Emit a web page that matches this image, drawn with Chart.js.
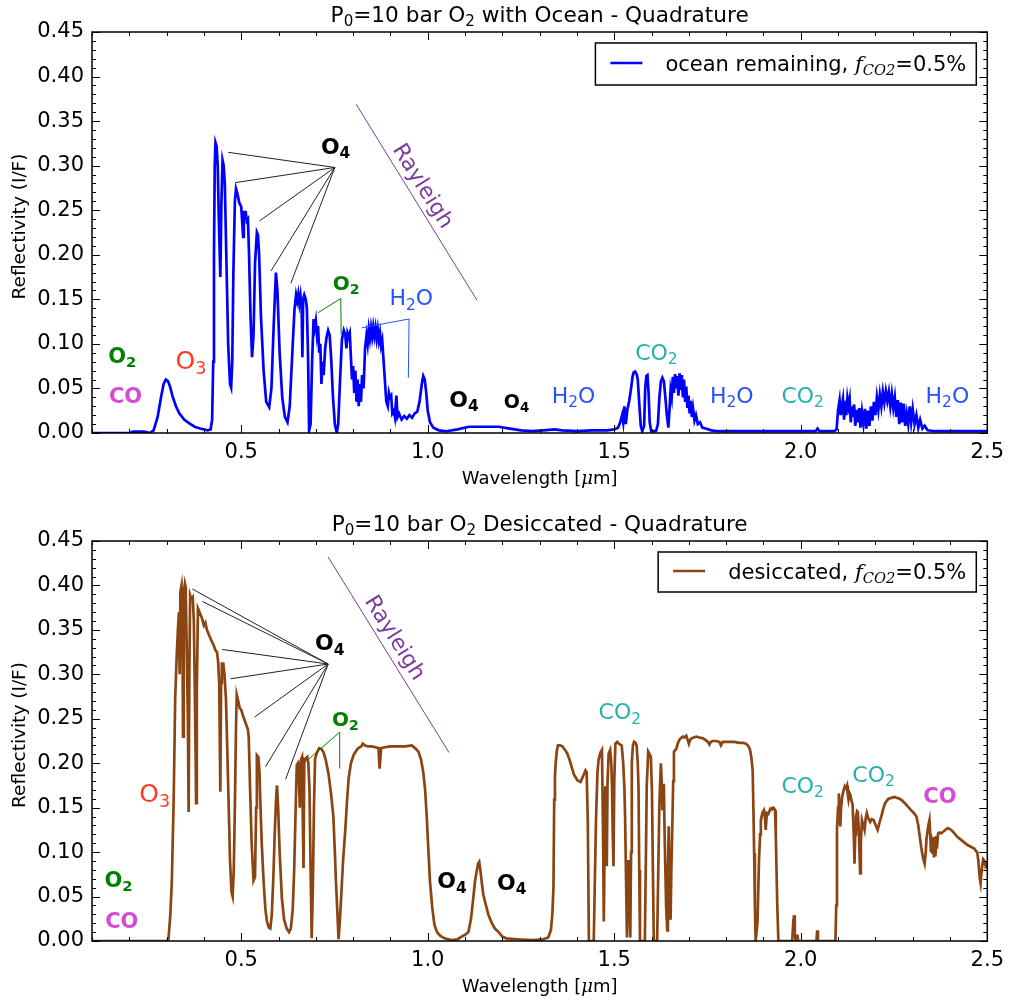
<!DOCTYPE html>
<html>
<head>
  <meta charset="utf-8">
  <title>P0=10 bar O2 reflectivity spectra</title>
  <script src="https://cdn.jsdelivr.net/npm/chart.js"></script>
  <style>
    body { margin: 0; padding: 0; background: #fff; }
    canvas { display: block; }
  </style>
</head>
<body>
  <canvas id="oceanChart" width="1011" height="500"></canvas>
  <canvas id="dryChart" width="1011" height="500"></canvas>

  <script>
    // Spectra as [wavelength (um), reflectivity I/F] pairs
    const oceanSpectrum = [
      [0.100,0.000],[0.200,0.000],[0.210,0.0015],[0.240,0.0015],[0.255,0.000],[0.265,0.003],[0.276,0.018],[0.285,0.040],
      [0.292,0.055],[0.298,0.060],[0.304,0.058],[0.310,0.051],[0.316,0.041],[0.325,0.030],[0.334,0.022],[0.347,0.015],
      [0.360,0.011],[0.375,0.007],[0.390,0.005],[0.410,0.003],[0.418,0.004],[0.422,0.015],[0.425,0.080],[0.427,0.200],
      [0.429,0.300],[0.431,0.326],[0.434,0.322],[0.437,0.300],[0.440,0.240],[0.444,0.175],[0.447,0.260],[0.450,0.306],
      [0.453,0.300],[0.456,0.280],[0.460,0.200],[0.465,0.100],[0.470,0.055],[0.473,0.051],[0.476,0.080],[0.479,0.180],
      [0.483,0.260],[0.486,0.274],[0.490,0.268],[0.495,0.258],[0.500,0.254],[0.503,0.235],[0.505,0.220],[0.507,0.248],
      [0.512,0.248],[0.515,0.238],[0.518,0.240],[0.521,0.200],[0.525,0.130],[0.529,0.085],[0.533,0.110],[0.537,0.190],
      [0.542,0.225],[0.545,0.222],[0.548,0.200],[0.553,0.130],[0.560,0.070],[0.567,0.035],[0.575,0.029],[0.581,0.050],
      [0.587,0.120],[0.593,0.180],[0.597,0.160],[0.603,0.090],[0.610,0.040],[0.617,0.018],[0.624,0.012],[0.630,0.030],
      [0.637,0.090],[0.643,0.140],[0.647,0.155],[0.650,0.148],[0.653,0.156],[0.656,0.145],[0.659,0.154],[0.662,0.140],
      [0.664,0.085],[0.666,0.150],[0.669,0.155],[0.673,0.150],[0.676,0.140],[0.679,0.090],[0.682,0.003],[0.686,0.010],
      [0.690,0.080],[0.694,0.128],[0.697,0.118],[0.700,0.126],[0.703,0.110],[0.706,0.120],[0.709,0.090],[0.712,0.100],
      [0.715,0.055],[0.718,0.080],[0.721,0.065],[0.725,0.095],[0.729,0.108],[0.733,0.115],[0.737,0.110],[0.741,0.085],
      [0.746,0.040],[0.751,0.010],[0.756,0.000],[0.760,0.010],[0.765,0.060],[0.770,0.105],[0.775,0.115],[0.779,0.110],
      [0.782,0.095],[0.785,0.112],[0.788,0.108],[0.791,0.112],[0.794,0.085],[0.797,0.060],[0.800,0.075],[0.803,0.045],
      [0.806,0.070],[0.809,0.035],[0.812,0.060],[0.815,0.030],[0.818,0.055],[0.821,0.035],[0.824,0.065],[0.828,0.050],
      [0.832,0.095],[0.836,0.110],[0.839,0.100],[0.842,0.116],[0.845,0.106],[0.848,0.118],[0.851,0.108],[0.854,0.119],
      [0.857,0.109],[0.860,0.118],[0.863,0.106],[0.866,0.116],[0.869,0.104],[0.872,0.112],[0.875,0.098],[0.878,0.104],
      [0.881,0.085],[0.885,0.060],[0.889,0.035],[0.893,0.030],[0.896,0.045],[0.899,0.040],[0.902,0.042],[0.905,0.022],
      [0.909,0.025],[0.912,0.018],[0.916,0.042],[0.919,0.018],[0.923,0.022],[0.930,0.015],[0.937,0.019],[0.944,0.016],
      [0.951,0.020],[0.958,0.017],[0.965,0.022],[0.972,0.024],[0.978,0.035],[0.984,0.055],[0.988,0.064],[0.992,0.060],
      [0.996,0.045],[1.000,0.025],[1.006,0.012],[1.015,0.006],[1.030,0.003],[1.050,0.002],[1.080,0.004],[1.110,0.007],
      [1.150,0.007],[1.190,0.007],[1.220,0.005],[1.250,0.003],[1.280,0.002],[1.310,0.003],[1.340,0.004],[1.360,0.003],
      [1.400,0.002],[1.440,0.003],[1.480,0.003],[1.500,0.004],[1.510,0.006],[1.516,0.012],[1.521,0.020],[1.524,0.012],
      [1.527,0.030],[1.531,0.010],[1.535,0.026],[1.540,0.036],[1.545,0.050],[1.549,0.063],[1.552,0.068],[1.556,0.069],
      [1.560,0.066],[1.563,0.060],[1.567,0.033],[1.571,0.008],[1.575,0.002],[1.580,0.008],[1.583,0.050],[1.586,0.064],
      [1.589,0.065],[1.592,0.045],[1.595,0.012],[1.599,0.002],[1.612,0.002],[1.617,0.010],[1.621,0.040],[1.625,0.058],
      [1.629,0.062],[1.633,0.058],[1.637,0.040],[1.641,0.020],[1.645,0.006],[1.648,0.025],[1.651,0.048],[1.654,0.040],
      [1.657,0.063],[1.660,0.045],[1.663,0.066],[1.666,0.050],[1.669,0.064],[1.672,0.042],[1.675,0.067],[1.678,0.048],
      [1.681,0.065],[1.684,0.040],[1.687,0.060],[1.690,0.035],[1.693,0.052],[1.696,0.028],[1.699,0.042],[1.702,0.022],
      [1.705,0.036],[1.708,0.018],[1.711,0.028],[1.715,0.014],[1.719,0.020],[1.724,0.010],[1.730,0.012],[1.736,0.006],
      [1.745,0.005],[1.760,0.003],[1.780,0.002],[1.850,0.002],[1.950,0.002],[2.040,0.002],[2.045,0.005],[2.050,0.002],
      [2.090,0.002],[2.096,0.004],[2.100,0.026],[2.104,0.037],[2.107,0.020],[2.110,0.030],[2.113,0.038],[2.116,0.015],
      [2.119,0.036],[2.122,0.020],[2.125,0.039],[2.128,0.030],[2.131,0.038],[2.134,0.012],[2.137,0.030],[2.140,0.018],
      [2.143,0.032],[2.146,0.008],[2.150,0.026],[2.153,0.012],[2.157,0.028],[2.160,0.006],[2.164,0.024],[2.168,0.010],
      [2.172,0.027],[2.176,0.005],[2.180,0.025],[2.184,0.008],[2.188,0.030],[2.192,0.014],[2.196,0.035],[2.200,0.020],
      [2.204,0.040],[2.208,0.026],[2.212,0.043],[2.216,0.030],[2.220,0.046],[2.224,0.034],[2.228,0.047],[2.232,0.036],
      [2.236,0.046],[2.240,0.030],[2.244,0.044],[2.248,0.028],[2.252,0.040],[2.256,0.018],[2.260,0.037],[2.264,0.010],
      [2.268,0.034],[2.272,0.012],[2.276,0.033],[2.280,0.008],[2.284,0.022],[2.288,0.010],[2.292,0.030],[2.296,0.012],
      [2.300,0.027],[2.305,0.010],[2.310,0.020],[2.315,0.006],[2.320,0.015],[2.326,0.005],[2.332,0.008],[2.340,0.003],
      [2.360,0.002],[2.500,0.002]
    ];

    const drySpectrum = [
      [0.100,0.000],[0.300,0.000],[0.305,0.002],[0.310,0.030],[0.314,0.067],[0.319,0.160],[0.323,0.273],[0.327,0.320],
      [0.330,0.348],[0.333,0.370],[0.335,0.300],[0.337,0.393],[0.340,0.400],[0.342,0.380],[0.344,0.230],[0.346,0.392],
      [0.349,0.402],[0.351,0.398],[0.354,0.330],[0.357,0.250],[0.359,0.145],[0.361,0.300],[0.363,0.389],[0.366,0.385],
      [0.370,0.387],[0.373,0.360],[0.375,0.300],[0.378,0.200],[0.379,0.155],[0.381,0.280],[0.384,0.374],[0.390,0.368],
      [0.395,0.363],[0.400,0.355],[0.404,0.358],[0.408,0.350],[0.412,0.346],[0.416,0.342],[0.421,0.337],[0.426,0.333],
      [0.431,0.327],[0.435,0.325],[0.438,0.315],[0.441,0.290],[0.444,0.168],[0.446,0.290],[0.448,0.312],[0.452,0.312],
      [0.455,0.300],[0.459,0.273],[0.463,0.210],[0.466,0.160],[0.470,0.090],[0.474,0.055],[0.477,0.050],[0.480,0.080],
      [0.483,0.150],[0.486,0.240],[0.488,0.277],[0.492,0.270],[0.496,0.262],[0.500,0.260],[0.506,0.252],[0.512,0.245],
      [0.518,0.238],[0.520,0.230],[0.522,0.200],[0.524,0.168],[0.528,0.110],[0.533,0.068],[0.537,0.072],[0.540,0.150],
      [0.542,0.209],[0.546,0.207],[0.549,0.190],[0.551,0.160],[0.555,0.110],[0.560,0.067],[0.565,0.035],[0.569,0.022],
      [0.574,0.015],[0.578,0.014],[0.582,0.030],[0.586,0.070],[0.590,0.123],[0.594,0.165],[0.596,0.175],[0.599,0.150],
      [0.603,0.100],[0.609,0.048],[0.615,0.024],[0.622,0.014],[0.628,0.010],[0.633,0.014],[0.638,0.035],[0.642,0.080],
      [0.646,0.150],[0.649,0.198],[0.652,0.200],[0.655,0.180],[0.657,0.150],[0.659,0.200],[0.661,0.205],[0.663,0.207],
      [0.665,0.140],[0.667,0.082],[0.669,0.200],[0.672,0.205],[0.677,0.207],[0.680,0.200],[0.683,0.170],[0.686,0.080],
      [0.689,0.003],[0.692,0.060],[0.695,0.150],[0.698,0.205],[0.703,0.212],[0.709,0.217],[0.715,0.216],[0.721,0.212],
      [0.727,0.203],[0.734,0.188],[0.741,0.165],[0.747,0.140],[0.751,0.100],[0.754,0.067],[0.758,0.030],[0.761,0.002],
      [0.764,0.020],[0.768,0.050],[0.773,0.090],[0.779,0.125],[0.784,0.160],[0.788,0.183],[0.794,0.200],[0.801,0.209],
      [0.808,0.214],[0.814,0.217],[0.822,0.219],[0.826,0.222],[0.832,0.220],[0.840,0.219],[0.850,0.219],[0.860,0.218],
      [0.868,0.217],[0.870,0.200],[0.871,0.194],[0.873,0.205],[0.875,0.217],[0.885,0.218],[0.900,0.219],[0.920,0.219],
      [0.940,0.219],[0.957,0.220],[0.966,0.217],[0.975,0.213],[0.982,0.204],[0.988,0.190],[0.993,0.170],[0.997,0.142],
      [1.002,0.100],[1.006,0.067],[1.012,0.038],[1.018,0.018],[1.025,0.010],[1.033,0.006],[1.045,0.003],[1.064,0.001],
      [1.080,0.002],[1.091,0.005],[1.100,0.007],[1.109,0.010],[1.116,0.025],[1.122,0.048],[1.127,0.068],[1.131,0.078],
      [1.135,0.087],[1.138,0.089],[1.141,0.080],[1.145,0.065],[1.149,0.052],[1.156,0.040],[1.163,0.029],[1.172,0.020],
      [1.180,0.014],[1.190,0.010],[1.200,0.005],[1.210,0.003],[1.240,0.002],[1.279,0.001],[1.310,0.002],[1.323,0.004],
      [1.330,0.012],[1.334,0.030],[1.337,0.060],[1.339,0.159],[1.341,0.185],[1.343,0.200],[1.346,0.214],[1.349,0.220],
      [1.355,0.220],[1.361,0.219],[1.368,0.215],[1.374,0.211],[1.380,0.204],[1.385,0.197],[1.392,0.187],[1.401,0.181],
      [1.410,0.179],[1.414,0.183],[1.418,0.187],[1.423,0.192],[1.426,0.190],[1.429,0.136],[1.432,0.000],[1.445,0.000],
      [1.451,0.136],[1.455,0.190],[1.458,0.204],[1.463,0.212],[1.467,0.215],[1.470,0.120],[1.472,0.022],[1.474,0.100],
      [1.476,0.174],[1.478,0.130],[1.480,0.084],[1.482,0.180],[1.485,0.211],[1.489,0.215],[1.492,0.200],[1.494,0.174],
      [1.496,0.120],[1.498,0.084],[1.500,0.180],[1.503,0.222],[1.508,0.224],[1.512,0.222],[1.516,0.221],[1.520,0.220],
      [1.524,0.200],[1.527,0.174],[1.529,0.140],[1.532,0.060],[1.534,0.004],[1.536,0.060],[1.538,0.091],[1.540,0.050],
      [1.543,0.004],[1.545,0.100],[1.547,0.200],[1.550,0.220],[1.553,0.224],[1.557,0.223],[1.560,0.220],[1.563,0.200],
      [1.565,0.174],[1.567,0.080],[1.569,0.000],[1.582,0.000],[1.585,0.100],[1.587,0.174],[1.591,0.213],[1.595,0.210],
      [1.598,0.207],[1.601,0.170],[1.603,0.099],[1.606,0.000],[1.615,0.000],[1.618,0.080],[1.621,0.155],[1.625,0.200],
      [1.627,0.180],[1.629,0.147],[1.631,0.170],[1.633,0.177],[1.635,0.120],[1.637,0.080],[1.639,0.040],[1.642,0.012],
      [1.644,0.080],[1.646,0.129],[1.648,0.070],[1.651,0.024],[1.653,0.080],[1.655,0.117],[1.658,0.180],[1.660,0.213],
      [1.664,0.215],[1.667,0.217],[1.670,0.222],[1.674,0.226],[1.678,0.228],[1.684,0.230],[1.688,0.229],[1.693,0.231],
      [1.697,0.226],[1.700,0.222],[1.703,0.226],[1.707,0.228],[1.713,0.229],[1.720,0.230],[1.728,0.229],[1.738,0.228],
      [1.745,0.226],[1.751,0.224],[1.755,0.221],[1.759,0.224],[1.764,0.225],[1.773,0.225],[1.782,0.224],[1.786,0.220],
      [1.791,0.224],[1.800,0.224],[1.809,0.224],[1.822,0.224],[1.835,0.223],[1.845,0.223],[1.853,0.222],[1.860,0.219],
      [1.864,0.215],[1.868,0.205],[1.871,0.192],[1.873,0.150],[1.875,0.099],[1.877,0.040],[1.879,0.000],[1.882,0.012],
      [1.884,0.022],[1.888,0.091],[1.891,0.120],[1.893,0.136],[1.897,0.144],[1.901,0.147],[1.904,0.138],[1.906,0.125],
      [1.909,0.144],[1.913,0.143],[1.915,0.145],[1.919,0.149],[1.923,0.148],[1.926,0.150],[1.929,0.149],[1.931,0.147],
      [1.933,0.120],[1.934,0.099],[1.937,0.040],[1.940,0.000],[1.977,0.000],[1.980,0.022],[1.982,0.029],[1.984,0.010],
      [1.986,0.000],[1.990,0.000],[1.991,0.007],[1.993,0.000],[2.042,0.000],[2.044,0.012],[2.046,0.000],[2.093,0.000],
      [2.095,0.040],[2.097,0.125],[2.100,0.150],[2.102,0.166],[2.104,0.150],[2.106,0.129],[2.108,0.150],[2.111,0.162],
      [2.115,0.170],[2.118,0.174],[2.121,0.172],[2.124,0.175],[2.126,0.165],[2.128,0.159],[2.131,0.166],[2.133,0.164],
      [2.136,0.158],[2.139,0.153],[2.142,0.120],[2.144,0.087],[2.146,0.120],[2.148,0.140],[2.151,0.146],[2.153,0.145],
      [2.156,0.120],[2.159,0.076],[2.161,0.110],[2.164,0.136],[2.168,0.130],[2.171,0.125],[2.174,0.138],[2.177,0.144],
      [2.181,0.138],[2.186,0.134],[2.190,0.137],[2.195,0.136],[2.200,0.131],[2.206,0.125],[2.211,0.133],[2.217,0.142],
      [2.222,0.150],[2.226,0.155],[2.231,0.158],[2.235,0.160],[2.243,0.161],[2.252,0.162],[2.258,0.161],[2.265,0.160],
      [2.272,0.158],[2.279,0.155],[2.288,0.151],[2.296,0.147],[2.303,0.144],[2.310,0.140],[2.315,0.130],[2.319,0.117],
      [2.323,0.105],[2.327,0.095],[2.330,0.090],[2.332,0.087],[2.335,0.100],[2.337,0.115],[2.339,0.121],[2.342,0.130],
      [2.345,0.136],[2.347,0.120],[2.349,0.100],[2.351,0.112],[2.353,0.098],[2.355,0.117],[2.357,0.094],[2.359,0.113],
      [2.361,0.095],[2.363,0.118],[2.365,0.104],[2.368,0.121],[2.372,0.122],[2.376,0.121],[2.385,0.124],[2.394,0.127],
      [2.403,0.125],[2.412,0.121],[2.420,0.117],[2.429,0.114],[2.438,0.111],[2.447,0.108],[2.456,0.106],[2.465,0.104],
      [2.470,0.101],[2.473,0.100],[2.476,0.090],[2.478,0.080],[2.480,0.070],[2.482,0.065],[2.484,0.075],[2.487,0.087],
      [2.489,0.092],[2.491,0.091],[2.494,0.086],[2.496,0.085],[2.500,0.088]
    ];

    const xTickValues = [0.5, 1.0, 1.5, 2.0, 2.5];
    const yTickValues = [0, 0.05, 0.10, 0.15, 0.20, 0.25, 0.30, 0.35, 0.40, 0.45];

    const FONT = '"DejaVu Sans", sans-serif';
    const SERIF = '"DejaVu Serif", serif';

    // colours used for the species labels
    const C_O2 = '#008000', C_CO = '#d24dd2', C_O3 = '#ff3a20', C_CO2 = '#22b0b0',
          C_H2O = '#2452ff', C_RAY = '#7b3c9e';

    const sub = t => ({ t, sub: true });

    // Mixed text (normal + subscript + serif italic pieces), centred on x unless align = 'left'
    function richSegments(ctx, parts, o) {
      return parts.map(p => {
        const seg = typeof p === 'string' ? { t: p } : p;
        const size = seg.sub ? o.size * 0.7 : o.size;
        const font = `${seg.style || 'normal'} ${o.weight || 'normal'} ${size}px ${seg.family || FONT}`;
        ctx.font = font;
        return { t: seg.t, font, sub: seg.sub, w: ctx.measureText(seg.t).width };
      });
    }
    function richWidth(ctx, parts, o) {
      return richSegments(ctx, parts, o).reduce((a, s) => a + s.w, 0);
    }
    function drawRich(ctx, parts, x, y, o) {
      const segs = richSegments(ctx, parts, o);
      const total = segs.reduce((a, s) => a + s.w, 0);
      let cx = o.align === 'left' ? x : x - total / 2;
      const base = y + o.size * 0.36;
      ctx.fillStyle = o.color || '#000';
      ctx.textAlign = 'left';
      ctx.textBaseline = 'alphabetic';
      segs.forEach(s => {
        ctx.font = s.font;
        ctx.fillText(s.t, cx, s.sub ? base + o.size * 0.2 : base);
        cx += s.w;
      });
    }

    // Frame, inward ticks, title, axis titles, legend and the band annotations
    const panelDecor = {
      id: 'panelDecor',
      afterDatasetsDraw(chart, args, opts) {
        const { ctx, chartArea: a, scales: { x, y } } = chart;
        ctx.save();

        opts.leaders.forEach(l => {
          ctx.strokeStyle = l.color;
          ctx.lineWidth = 1;
          const hx = x.getPixelForValue(l.from[0]), hy = y.getPixelForValue(l.from[1]);
          l.to.forEach(p => {
            ctx.beginPath();
            ctx.moveTo(hx, hy);
            ctx.lineTo(x.getPixelForValue(p[0]), y.getPixelForValue(p[1]));
            ctx.stroke();
          });
        });

        opts.labels.forEach(l => {
          ctx.save();
          ctx.translate(x.getPixelForValue(l.at[0]), y.getPixelForValue(l.at[1]));
          if (l.angle) ctx.rotate(l.angle * Math.PI / 180);
          drawRich(ctx, l.parts, 0, 0, l);
          ctx.restore();
        });

        // ticks on all four sides, pointing inward
        ctx.strokeStyle = '#000';
        ctx.lineWidth = 1;
        for (let i = 1; i <= 25; i++) {
          const px = Math.round(x.getPixelForValue(i / 10)) + 0.5;
          const len = i % 5 === 0 ? 8 : 4;
          ctx.beginPath();
          ctx.moveTo(px, a.bottom); ctx.lineTo(px, a.bottom - len);
          ctx.moveTo(px, a.top); ctx.lineTo(px, a.top + len);
          ctx.stroke();
        }
        for (let i = 0; i <= 45; i++) {
          const py = Math.round(y.getPixelForValue(i / 100)) + 0.5;
          const len = i % 5 === 0 ? 8 : 4;
          ctx.beginPath();
          ctx.moveTo(a.left, py); ctx.lineTo(a.left + len, py);
          ctx.moveTo(a.right, py); ctx.lineTo(a.right - len, py);
          ctx.stroke();
        }
        ctx.lineWidth = 1.5;
        ctx.strokeRect(a.left, a.top, a.right - a.left, a.bottom - a.top);

        // legend box
        const lg = opts.legend;
        const lo = { size: 21 };
        const tw = richWidth(ctx, lg.parts, lo);
        const right = a.right - 11, top = a.top + 11, h = lg.height;
        const left = right - (70 + tw + 10);
        ctx.fillStyle = '#fff';
        ctx.fillRect(left, top, right - left, h);
        ctx.lineWidth = 1.5;
        ctx.strokeStyle = '#000';
        ctx.strokeRect(left, top, right - left, h);
        ctx.strokeStyle = chart.data.datasets[0].borderColor;
        ctx.lineWidth = 2.5;
        ctx.beginPath();
        ctx.moveTo(left + 15, top + h / 2 - 1);
        ctx.lineTo(left + 47, top + h / 2 - 1);
        ctx.stroke();
        drawRich(ctx, lg.parts, left + 70, top + h / 2 - 1, { size: 21, align: 'left', color: '#000' });

        // panel title and axis titles
        const midX = (a.left + a.right) / 2;
        drawRich(ctx, opts.title, midX, a.top - 18, { size: 21.6, color: '#000' });
        drawRich(ctx, ['Wavelength [', { t: 'μ', style: 'italic', family: SERIF }, 'm]'],
          midX, a.bottom + 45, { size: 18, color: '#000' });
        ctx.save();
        ctx.translate(18, (a.top + a.bottom) / 2 - 6);
        ctx.rotate(-Math.PI / 2);
        drawRich(ctx, ['Reflectivity (I/F)'], 0, 0, { size: 18.5, color: '#000' });
        ctx.restore();

        ctx.restore();
      }
    };

    function makeChart(id, points, color, topPad, xHeight, decor) {
      new Chart(document.getElementById(id), {
        type: 'line',
        data: {
          datasets: [{
            data: points.map(([w, r]) => ({ x: w, y: r })),
            borderColor: color,
            borderWidth: 2.7,
            pointRadius: 0,
            tension: 0,
            fill: false
          }]
        },
        options: {
          responsive: false,
          animation: false,
          devicePixelRatio: 1,
          layout: { padding: { top: topPad, right: 18, left: 0, bottom: 0 } },
          plugins: {
            legend: { display: false },
            tooltip: { enabled: false },
            panelDecor: decor
          },
          scales: {
            x: {
              type: 'linear', min: 0.1, max: 2.5,
              grid: { display: false, drawTicks: false }, border: { display: false },
              afterBuildTicks: s => { s.ticks = xTickValues.map(v => ({ value: v })); },
              afterFit: s => { s.height = xHeight; },
              ticks: {
                color: '#000', padding: 7, maxRotation: 0, autoSkip: false,
                font: { family: FONT, size: 21 },
                callback: v => Number(v).toFixed(1)
              }
            },
            y: {
              type: 'linear', min: 0, max: 0.45,
              grid: { display: false, drawTicks: false }, border: { display: false },
              afterBuildTicks: s => { s.ticks = yTickValues.map(v => ({ value: v })); },
              afterFit: s => { s.width = 92; },
              ticks: {
                color: '#000', padding: 8, autoSkip: false,
                font: { family: FONT, size: 21 },
                callback: v => Number(v).toFixed(2)
              }
            }
          }
        },
        plugins: [panelDecor]
      });
    }

    const fCO2 = [{ t: 'f', style: 'italic', family: SERIF }, { t: 'CO2', sub: true, style: 'italic', family: SERIF }, '=0.5%'];

    makeChart('oceanChart', oceanSpectrum, '#0000ff', 32, 67, {
      title: ['P', sub('0'), '=10 bar O', sub('2'), ' with Ocean - Quadrature'],
      legend: { parts: ['ocean remaining, '].concat(fCO2), height: 42 },
      leaders: [
        { color: '#222', from: [0.751, 0.298], to: [[0.465, 0.315], [0.485, 0.281], [0.549, 0.238], [0.580, 0.182], [0.633, 0.168]] },
        { color: C_RAY, from: [0.808, 0.369], to: [[1.132, 0.149]] },
        { color: C_O2, from: [0.767, 0.151], to: [[0.706, 0.135], [0.768, 0.110]] },
        { color: C_H2O, from: [0.950, 0.128], to: [[0.823, 0.118], [0.948, 0.062]] }
      ],
      labels: [
        { parts: ['O', sub('4')], at: [0.753, 0.322], size: 22, weight: 'bold', color: '#000' },
        { parts: ['Rayleigh'], at: [0.990, 0.278], size: 22, color: C_RAY, angle: 58 },
        { parts: ['O', sub('2')], at: [0.181, 0.0875], size: 21, weight: 'bold', color: C_O2 },
        { parts: ['CO'], at: [0.190, 0.0426], size: 21, weight: 'bold', color: C_CO },
        { parts: ['O', sub('3')], at: [0.365, 0.082], size: 25, color: C_O3 },
        { parts: ['O', sub('2')], at: [0.781, 0.169], size: 20, weight: 'bold', color: C_O2 },
        { parts: ['H', sub('2'), 'O'], at: [0.956, 0.152], size: 22, color: C_H2O },
        { parts: ['O', sub('4')], at: [1.097, 0.038], size: 22, weight: 'bold', color: '#000' },
        { parts: ['O', sub('4')], at: [1.238, 0.036], size: 19, weight: 'bold', color: '#000' },
        { parts: ['H', sub('2'), 'O'], at: [1.391, 0.0426], size: 22, color: C_H2O },
        { parts: ['CO', sub('2')], at: [1.613, 0.091], size: 22, color: C_CO2 },
        { parts: ['H', sub('2'), 'O'], at: [1.815, 0.0426], size: 22, color: C_H2O },
        { parts: ['CO', sub('2')], at: [2.005, 0.0426], size: 22, color: C_CO2 },
        { parts: ['H', sub('2'), 'O'], at: [2.393, 0.0426], size: 22, color: C_H2O }
      ]
    });

    makeChart('dryChart', drySpectrum, '#8b4513', 41, 59, {
      title: ['P', sub('0'), '=10 bar O', sub('2'), ' Desiccated - Quadrature'],
      legend: { parts: ['desiccated, '].concat(fCO2), height: 40 },
      leaders: [
        { color: '#222', from: [0.733, 0.3116], to: [[0.369, 0.396], [0.396, 0.382], [0.449, 0.328], [0.4715, 0.295], [0.536, 0.252], [0.565, 0.196], [0.619, 0.182]] },
        { color: C_RAY, from: [0.733, 0.432], to: [[1.057, 0.212]] },
        { color: C_O2, from: [0.764, 0.235], to: [[0.682, 0.205], [0.764, 0.194]] }
      ],
      labels: [
        { parts: ['O', sub('4')], at: [0.7375, 0.336], size: 22, weight: 'bold', color: '#000' },
        { parts: ['Rayleigh'], at: [0.915, 0.342], size: 22, color: C_RAY, angle: 58 },
        { parts: ['O', sub('2')], at: [0.7795, 0.250], size: 20, weight: 'bold', color: C_O2 },
        { parts: ['O', sub('3')], at: [0.268, 0.1665], size: 25, color: C_O3 },
        { parts: ['O', sub('2')], at: [0.171, 0.0697], size: 21, weight: 'bold', color: C_O2 },
        { parts: ['CO'], at: [0.180, 0.0236], size: 21, weight: 'bold', color: C_CO },
        { parts: ['O', sub('4')], at: [1.065, 0.068], size: 22, weight: 'bold', color: '#000' },
        { parts: ['O', sub('4')], at: [1.225, 0.0667], size: 22, weight: 'bold', color: '#000' },
        { parts: ['CO', sub('2')], at: [1.515, 0.2584], size: 22, color: C_CO2 },
        { parts: ['CO', sub('2')], at: [2.005, 0.1758], size: 22, color: C_CO2 },
        { parts: ['CO', sub('2')], at: [2.195, 0.1878], size: 22, color: C_CO2 },
        { parts: ['CO'], at: [2.373, 0.1642], size: 21, weight: 'bold', color: C_CO }
      ]
    });
  </script>
</body>
</html>
